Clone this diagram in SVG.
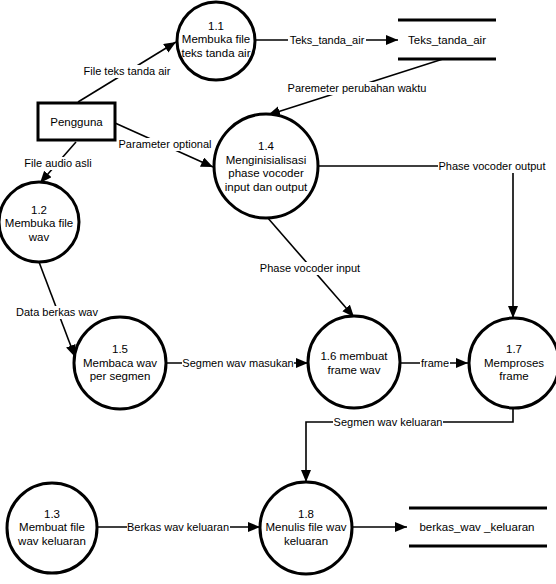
<svg xmlns="http://www.w3.org/2000/svg" width="556" height="584" viewBox="0 0 556 584">
<style>
.proc{fill:#fff;stroke:#000;stroke-width:3}
.ent{fill:#fff;stroke:#000;stroke-width:3}
.store{stroke:#000;stroke-width:3}
.t{font-family:"Liberation Sans",Arial,sans-serif;font-size:11.5px;fill:#000;text-anchor:middle}
.c{fill:none;stroke:#000;stroke-width:1.6}
.bg{fill:#fff}
.lbl{font-family:"Liberation Sans",Arial,sans-serif;font-size:11px;fill:#000;text-anchor:middle}
</style>
<defs>
<marker id="arr" markerUnits="userSpaceOnUse" markerWidth="14" markerHeight="12" refX="12" refY="5" orient="auto">
<path d="M0,0 L12,5 L0,10 z" fill="#000"/>
</marker>
</defs>
<rect width="556" height="584" fill="#fff"/>
<g id="connectors">
<line class="c" x1="78" y1="102" x2="176" y2="42" marker-end="url(#arr)"/>
<rect class="bg" x="82" y="65" width="90" height="13"/>
<text class="lbl" x="127" y="75">File teks tanda air</text>
<line class="c" x1="254" y1="40" x2="398" y2="40" marker-end="url(#arr)"/>
<rect class="bg" x="288" y="34" width="78" height="13"/>
<text class="lbl" x="327" y="44">Teks_tanda_air</text>
<line class="c" x1="443" y1="59" x2="268" y2="115" marker-end="url(#arr)"/>
<rect class="bg" x="287" y="82" width="141" height="13"/>
<text class="lbl" x="357" y="92">Paremeter perubahan waktu</text>
<line class="c" x1="115" y1="123" x2="213" y2="167" marker-end="url(#arr)"/>
<rect class="bg" x="118" y="138" width="95" height="13"/>
<text class="lbl" x="165" y="148">Parameter optional</text>
<line class="c" x1="76" y1="142" x2="40" y2="183" marker-end="url(#arr)"/>
<rect class="bg" x="24" y="157" width="69" height="13"/>
<text class="lbl" x="58" y="167">File audio asli</text>
<line class="c" x1="39" y1="262" x2="75" y2="357" marker-end="url(#arr)"/>
<rect class="bg" x="16" y="306" width="83" height="13"/>
<text class="lbl" x="57" y="316">Data berkas wav</text>
<line class="c" x1="267" y1="217" x2="354" y2="317" marker-end="url(#arr)"/>
<rect class="bg" x="259" y="262" width="102" height="13"/>
<text class="lbl" x="310" y="272">Phase vocoder input</text>
<polyline class="c" points="317,166 513,166 513,318" marker-end="url(#arr)"/>
<rect class="bg" x="438" y="160" width="109" height="13"/>
<text class="lbl" x="492" y="170">Phase vocoder output</text>
<line class="c" x1="166" y1="363" x2="308" y2="363" marker-end="url(#arr)"/>
<rect class="bg" x="182" y="357" width="112" height="13"/>
<text class="lbl" x="238" y="367">Segmen wav masukan</text>
<line class="c" x1="400" y1="363" x2="468" y2="363" marker-end="url(#arr)"/>
<rect class="bg" x="420" y="357" width="30" height="13"/>
<text class="lbl" x="435" y="367">frame</text>
<polyline class="c" points="513,406 513,422 306,422 306,482" marker-end="url(#arr)"/>
<rect class="bg" x="333" y="416" width="110" height="13"/>
<text class="lbl" x="388" y="426">Segmen wav keluaran</text>
<line class="c" x1="98" y1="527" x2="260" y2="527" marker-end="url(#arr)"/>
<rect class="bg" x="127" y="521" width="103" height="13"/>
<text class="lbl" x="178" y="531">Berkas wav keluaran</text>
<line class="c" x1="352" y1="527" x2="407" y2="527" marker-end="url(#arr)"/>
</g>
<g id="n11">
<circle class="proc" cx="216" cy="41" r="39"/>
<text class="t" x="216" y="30">1.1</text>
<text class="t" x="216" y="43">Membuka file</text>
<text class="t" x="216" y="57">teks tanda air</text>
</g>
<g id="store_teks">
<line class="store" x1="398" y1="20" x2="496" y2="20"/>
<line class="store" x1="398" y1="59" x2="496" y2="59"/>
<text class="t" x="447" y="44">Teks_tanda_air</text>
</g>
<g id="pengguna">
<rect class="ent" x="38" y="103" width="77" height="37"/>
<text class="t" x="76.5" y="126">Pengguna</text>
</g>
<g id="n14">
<circle class="proc" cx="266" cy="166" r="52"/>
<text class="t" x="266" y="150">1.4</text>
<text class="t" x="266" y="164">Menginisialisasi</text>
<text class="t" x="266" y="177">phase vocoder</text>
<text class="t" x="266" y="191">input dan output</text>
</g>
<g id="n12">
<circle class="proc" cx="39" cy="222" r="40"/>
<text class="t" x="39" y="214">1.2</text>
<text class="t" x="39" y="227">Membuka file</text>
<text class="t" x="39" y="241">wav</text>
</g>
<g id="n15">
<circle class="proc" cx="120" cy="363" r="46"/>
<text class="t" x="120" y="353">1.5</text>
<text class="t" x="120" y="367">Membaca wav</text>
<text class="t" x="120" y="380">per segmen</text>
</g>
<g id="n16">
<circle class="proc" cx="354" cy="362" r="46"/>
<text class="t" x="354" y="360">1.6 membuat</text>
<text class="t" x="354" y="374">frame wav</text>
</g>
<g id="n17">
<circle class="proc" cx="514" cy="363" r="45"/>
<text class="t" x="514" y="353">1.7</text>
<text class="t" x="514" y="367">Memproses</text>
<text class="t" x="514" y="380">frame</text>
</g>
<g id="n13">
<circle class="proc" cx="52" cy="528" r="45"/>
<text class="t" x="52" y="518">1.3</text>
<text class="t" x="52" y="531">Membuat file</text>
<text class="t" x="52" y="545">wav keluaran</text>
</g>
<g id="n18">
<circle class="proc" cx="306" cy="528" r="46"/>
<text class="t" x="306" y="518">1.8</text>
<text class="t" x="306" y="531">Menulis file wav</text>
<text class="t" x="306" y="545">keluaran</text>
</g>
<g id="store_berkas">
<line class="store" x1="409" y1="508" x2="547" y2="508"/>
<line class="store" x1="409" y1="546" x2="547" y2="546"/>
<text class="t" x="477" y="531">berkas_wav _keluaran</text>
</g>
</svg>
